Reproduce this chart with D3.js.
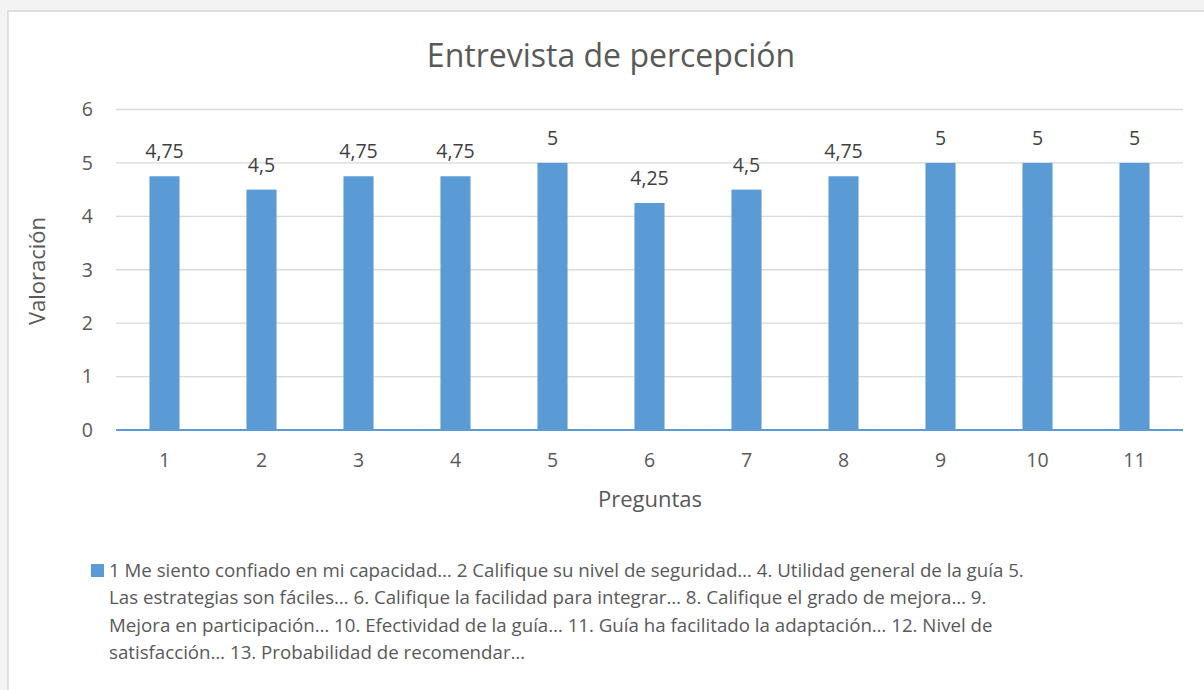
<!DOCTYPE html>
<html>
  <head>
    <meta charset="utf-8">
    <title>Entrevista de percepción</title>
    <script src="https://d3js.org/d3.v7.min.js"></script>
    <style>
      body { margin: 0; background: #f3f3f3; }
      svg { display: block; font-family: "Open Sans", sans-serif; }
    </style>
  </head>
  <body>
    <svg width="1204" height="690"></svg>
    <script>
      // values
      var categories = ["1", "2", "3", "4", "5", "6", "7", "8", "9", "10", "11"];
      var values = [4.75, 4.5, 4.75, 4.75, 5, 4.25, 4.5, 4.75, 5, 5, 5];
      var yTicks = [0, 1, 2, 3, 4, 5, 6];
      var title = "Entrevista de percepción";
      var xTitle = "Preguntas";
      var yTitle = "Valoración";
      var legendLines = [
        "1 Me siento confiado en mi capacidad… 2 Califique su nivel de seguridad… 4. Utilidad general de la guía 5.",
        "Las estrategias son fáciles… 6. Califique la facilidad para integrar… 8. Califique el grado de mejora… 9.",
        "Mejora en participación… 10. Efectividad de la guía… 11. Guía ha facilitado la adaptación… 12. Nivel de",
        "satisfacción… 13. Probabilidad de recomendar…"
      ];

      var svg = d3.select("svg");
      var textColor = "#595959";
      var barColor = "#5b9bd5";

      // chart area (white box with left/top border)
      svg.append("rect")
        .attr("x", 8).attr("y", 11)
        .attr("width", 1210).attr("height", 700)
        .attr("fill", "#ffffff")
        .attr("stroke", "#d9d9d9")
        .attr("stroke-width", 1.5);

      var plot = { left: 116, right: 1183, top: 109.5, bottom: 430 };

      var x = d3.scaleBand()
        .domain(categories)
        .range([plot.left, plot.right])
        .paddingInner(0.69)
        .paddingOuter(0.345);

      var y = d3.scaleLinear()
        .domain([0, 6])
        .range([plot.bottom, plot.top]);

      // gridlines
      svg.append("g")
        .selectAll("line")
        .data(yTicks.filter(function (d) { return d > 0; }))
        .enter().append("line")
          .attr("x1", plot.left).attr("x2", plot.right)
          .attr("y1", function (d) { return y(d); })
          .attr("y2", function (d) { return y(d); })
          .attr("stroke", "#d9d9d9")
          .attr("stroke-width", 1.3);

      // y axis labels
      var yAxis = d3.axisLeft(y).tickValues(yTicks).tickFormat(d3.format("d"))
        .tickSize(0).tickPadding(23);
      var gy = svg.append("g")
        .attr("transform", "translate(" + plot.left + ",0)")
        .call(yAxis);
      gy.select(".domain").remove();
      gy.selectAll("text")
        .attr("fill", textColor)
        .style("font-size", "19.5px")
        .style("font-family", "'Open Sans', sans-serif");

      // bars
      svg.append("g")
        .selectAll("rect")
        .data(values)
        .enter().append("rect")
          .attr("x", function (d, i) { return x(categories[i]); })
          .attr("y", function (d) { return y(d); })
          .attr("width", x.bandwidth())
          .attr("height", function (d) { return y(0) - y(d); })
          .attr("fill", barColor);

      // data labels
      svg.append("g")
        .selectAll("text")
        .data(values)
        .enter().append("text")
          .attr("x", function (d, i) { return x(categories[i]) + x.bandwidth() / 2; })
          .attr("y", function (d) { return y(d) - 18; })
          .attr("text-anchor", "middle")
          .attr("fill", "#404040")
          .style("font-size", "19.5px")
          .text(function (d) { return String(d).replace(".", ","); });

      // x axis
      var xAxis = d3.axisBottom(x).tickSize(0).tickPadding(23);
      var gx = svg.append("g")
        .attr("transform", "translate(0," + plot.bottom + ")")
        .call(xAxis);
      gx.select(".domain").remove();
      gx.selectAll("text")
        .attr("fill", textColor)
        .style("font-size", "19.5px")
        .style("font-family", "'Open Sans', sans-serif");
      svg.append("line")
        .attr("x1", plot.left).attr("x2", plot.right)
        .attr("y1", plot.bottom).attr("y2", plot.bottom)
        .attr("stroke", barColor)
        .attr("stroke-width", 2);

      // titles
      svg.append("text")
        .attr("x", 611).attr("y", 67)
        .attr("text-anchor", "middle")
        .attr("fill", textColor)
        .style("font-size", "32px")
        .text(title);

      svg.append("text")
        .attr("x", 650).attr("y", 507)
        .attr("text-anchor", "middle")
        .attr("fill", textColor)
        .style("font-size", "22px")
        .text(xTitle);

      svg.append("text")
        .attr("transform", "translate(45,271) rotate(-90)")
        .attr("text-anchor", "middle")
        .attr("fill", textColor)
        .style("font-size", "22px")
        .text(yTitle);

      // legend
      svg.append("rect")
        .attr("x", 91).attr("y", 564)
        .attr("width", 13).attr("height", 13)
        .attr("fill", barColor);

      svg.append("g")
        .selectAll("text")
        .data(legendLines)
        .enter().append("text")
          .attr("x", 109)
          .attr("y", function (d, i) { return 577 + i * 27.3; })
          .attr("fill", textColor)
          .style("font-size", "18.7px")
          .text(function (d) { return d; });
    </script>
  </body>
</html>
